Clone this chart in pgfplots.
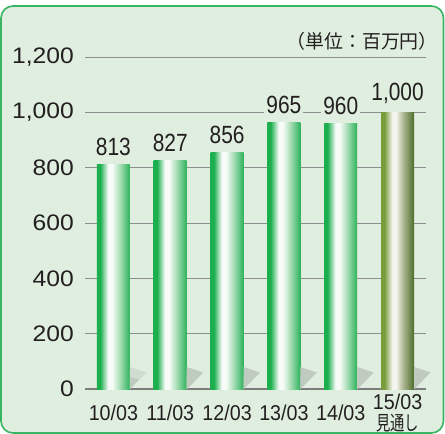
\documentclass[border=0pt]{standalone}
\usepackage{fontspec}
\usepackage{pgfplots}
\pgfplotsset{compat=1.18}
\setmainfont{Liberation Sans}
\newfontfamily\cjk{Noto Sans CJK JP}
\newfontfamily\cjkx[FakeStretch=0.72]{Noto Sans CJK JP}
\newfontfamily\condfont[FakeStretch=0.84]{Liberation Sans}
\newfontfamily\xfont[FakeStretch=0.92]{Liberation Sans}
\newfontfamily\yfont[FakeStretch=1.1]{Liberation Sans}
\definecolor{bg}{HTML}{DFEEDF}
\definecolor{frameg}{HTML}{38B563}
\definecolor{txt}{HTML}{231F20}
\definecolor{gridc}{HTML}{8E8E8E}
\definecolor{axisc}{HTML}{7C7C7C}
\definecolor{g1}{HTML}{1CAF4E}
\definecolor{gw}{HTML}{F8FCF8}
\definecolor{g3}{HTML}{B4E2C0}
\definecolor{g4}{HTML}{2BB25B}
\definecolor{o1}{HTML}{789B3C}
\definecolor{ow}{HTML}{F4F5EE}
\definecolor{o3}{HTML}{AEB893}
\definecolor{o4}{HTML}{4D6E2B}
\pgfdeclarehorizontalshading{greenbar}{100bp}{color(0bp)=(g1); color(25bp)=(g1); color(30bp)=(g1); color(42bp)=(gw); color(48bp)=(gw); color(58bp)=(g3); color(75bp)=(g4); color(100bp)=(g4)}
\pgfdeclarehorizontalshading{olivebar}{100bp}{color(0bp)=(o1); color(25bp)=(o1); color(30bp)=(o1); color(42bp)=(ow); color(48bp)=(ow); color(58bp)=(o3); color(75bp)=(o4); color(100bp)=(o4)}
\pgfdeclareplotmark{barshadow}{%
  \pgfpathmoveto{\pgfpoint{16.5bp}{0bp}}%
  \pgfpathlineto{\pgfpoint{33bp}{16.5bp}}%
  \pgfpathlineto{\pgfpoint{16.5bp}{22bp}}%
  \pgfpathclose
  \pgfusepathqfill
  \pgfpathmoveto{\pgfpoint{16.5bp}{0bp}}%
  \pgfpathlineto{\pgfpoint{26bp}{9.5bp}}%
  \pgfpathlineto{\pgfpoint{16.5bp}{12bp}}%
  \pgfpathclose
  \pgfsetfillcolor{gray!32!bg}%
  \pgfusepathqfill}
\pgfplotsset{
  gbar/.style={ybar, bar width=33bp, bar shift=0pt, draw=none, shading=greenbar, nodes near coords},
  obar/.style={ybar, bar width=33bp, bar shift=0pt, draw=none, shading=olivebar, nodes near coords},
}
\begin{document}
\begin{tikzpicture}
\draw[rounded corners=12bp, line width=1.6bp, draw=frameg, fill=bg] (1bp,-433bp) rectangle (443.5bp,-6bp);
\begin{axis}[
  at={(85bp,-389bp)}, anchor=south west,
  scale only axis, width=341bp, height=332bp,
  xmin=-0.5, xmax=5.5, ymin=0, ymax=1200,
  ytick={0,200,...,1200},
  xtick={0,...,5},
  xticklabels={10/03,11/03,12/03,13/03,14/03,{15/03\\[2bp]{\cjkx\fontsize{20}{20}\selectfont 見通し}}},
  axis x line*=bottom, axis y line*=left,
  y axis line style={draw=none},
  x axis line style={draw=axisc, line width=1.6bp},
  major tick length=0pt, tick style={draw=none},
  ymajorgrids, grid style={draw=gridc, line width=0.9bp},
  /pgf/number format/assume math mode=true,
  /pgf/number format/1000 sep={,},
  yticklabel style={font=\yfont\fontsize{22.5}{22.5}\selectfont, text=txt, inner sep=0pt, xshift=-11bp},
  xticklabel style={font=\xfont\fontsize{21.5}{19}\selectfont, text=txt, align=center, anchor=center, inner sep=0pt, yshift=-24bp},
  clip=false,
  nodes near coords style={font=\condfont\fontsize{25}{25}\selectfont, text=txt, fill=bg, inner sep=2bp, anchor=south, yshift=6bp},
]
% shadows at the foot of each bar
\addplot[only marks, mark=barshadow, mark options={draw=none, fill=gray!16!bg}] coordinates {(0,0) (1,0) (2,0) (3,0) (4,0) (5,0)};
% bars (one plot per bar so each gets its own gradient)
\addplot[gbar] coordinates {(0,813)};
\addplot[gbar] coordinates {(1,827)};
\addplot[gbar] coordinates {(2,856)};
\addplot[gbar] coordinates {(3,965)};
\addplot[gbar] coordinates {(4,960)};
\addplot[obar] coordinates {(5,1000)};
\end{axis}
\node[anchor=base east, inner sep=0pt, font=\cjk\fontsize{19}{19}\selectfont, text=txt] at (438bp,-48bp) {（単位：百万円）};
\pgfresetboundingbox
\path[use as bounding box] (0,0) rectangle (445bp,-434bp);
\end{tikzpicture}
\end{document}
